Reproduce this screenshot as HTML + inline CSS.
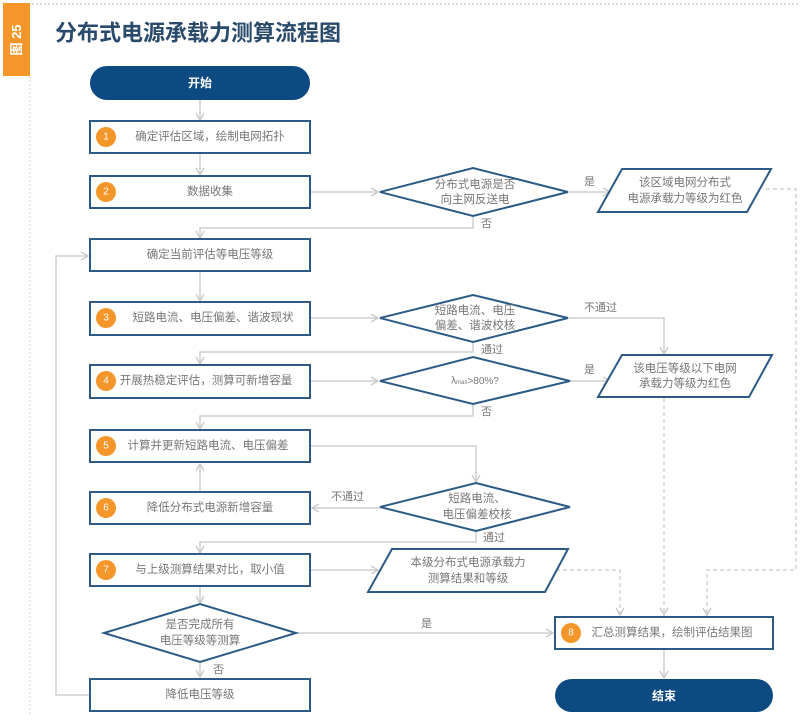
<!DOCTYPE html>
<html><head><meta charset="utf-8"><style>
html,body{margin:0;padding:0;background:#fff;}
svg{display:block;font-family:"Liberation Sans","Noto Sans CJK SC",sans-serif;}
.t{fill:#777;font-size:11.5px;text-anchor:middle;dominant-baseline:central;}
.l{fill:#777;font-size:11px;dominant-baseline:central;}
.b{fill:#fff;stroke:#2c5a84;stroke-width:2;}
.c{fill:none;stroke:#cfcfcf;stroke-width:1.5;}
.d{fill:none;stroke:#c8c8c8;stroke-width:1.2;stroke-dasharray:4 3;}
.n{fill:#f5962a;}
.nt{fill:#fff;font-size:10px;text-anchor:middle;dominant-baseline:central;}
</style></head><body>
<svg width="800" height="723" viewBox="0 0 800 723">
<defs>
<marker id="a" markerWidth="10" markerHeight="10" refX="8" refY="5" orient="auto" markerUnits="userSpaceOnUse">
<path d="M1,1 L8,5 L1,9" fill="none" stroke="#c8c8c8" stroke-width="1.3"/></marker>
</defs>
<!-- frame -->
<line x1="32" y1="4" x2="800" y2="4" stroke="#bbb" stroke-width="1" stroke-dasharray="2 2"/>
<line x1="30" y1="76" x2="30" y2="716" stroke="#ccc" stroke-width="1" stroke-dasharray="2 2"/>
<rect x="3" y="3" width="27" height="73" fill="#f5962a"/>
<text x="16.5" y="40" fill="#fff" font-size="13" font-weight="bold" text-anchor="middle" dominant-baseline="central" transform="rotate(-90 16.5 40)">图 25</text>
<text x="55" y="33" fill="#2a4a6b" font-size="22" font-weight="bold" dominant-baseline="central">分布式电源承载力测算流程图</text>

<!-- connectors -->
<line class="c" x1="200" y1="100" x2="200" y2="120" marker-end="url(#a)"/>
<line class="c" x1="200" y1="154" x2="200" y2="175" marker-end="url(#a)"/>
<line class="c" x1="311" y1="192" x2="378" y2="192" marker-end="url(#a)"/>
<line class="c" x1="569" y1="192" x2="610" y2="192" marker-end="url(#a)"/>
<polyline class="c" points="473,216 473,228 200,228 200,238" marker-end="url(#a)"/>
<line class="c" x1="200" y1="272" x2="200" y2="301" marker-end="url(#a)"/>
<line class="c" x1="311" y1="318" x2="378" y2="318" marker-end="url(#a)"/>
<polyline class="c" points="569,318 664,318 664,354" marker-end="url(#a)"/>
<polyline class="c" points="473,342 473,352 200,352 200,364" marker-end="url(#a)"/>
<line class="c" x1="311" y1="381" x2="378" y2="381" marker-end="url(#a)"/>
<line class="c" x1="570" y1="381" x2="610" y2="381" marker-end="url(#a)"/>
<polyline class="c" points="473,404 473,416 200,416 200,429" marker-end="url(#a)"/>
<polyline class="c" points="311,446 476,446 476,482" marker-end="url(#a)"/>
<line class="c" x1="380" y1="508" x2="312" y2="508" marker-end="url(#a)"/>
<line class="c" x1="200" y1="492" x2="200" y2="464" marker-end="url(#a)"/>
<polyline class="c" points="476,531 476,542 200,542 200,553" marker-end="url(#a)"/>
<line class="c" x1="311" y1="570" x2="378" y2="570" marker-end="url(#a)"/>
<line class="c" x1="200" y1="587" x2="200" y2="603" marker-end="url(#a)"/>
<line class="c" x1="296" y1="633" x2="553" y2="633" marker-end="url(#a)"/>
<line class="c" x1="200" y1="662" x2="200" y2="677" marker-end="url(#a)"/>
<polyline class="c" points="90,695 56,695 56,256 88,256" marker-end="url(#a)"/>
<line class="c" x1="664" y1="650" x2="664" y2="678" marker-end="url(#a)"/>
<!-- dashed -->
<polyline class="d" points="766,189 796,189 796,570 707,570 707,615" marker-end="url(#a)"/>
<polyline class="d" points="664,398 664,615" marker-end="url(#a)"/>
<polyline class="d" points="556,570 620,570 620,615" marker-end="url(#a)"/>

<!-- start -->
<rect x="90" y="66" width="220" height="34" rx="17" fill="#0d4a82"/>
<text x="200" y="83" fill="#fff" font-size="12" font-weight="bold" text-anchor="middle" dominant-baseline="central">开始</text>

<!-- boxes -->
<rect class="b" x="90" y="121" width="220" height="32"/>
<circle class="n" cx="106" cy="137" r="10"/><text class="nt" x="106" y="137">1</text>
<text class="t" x="210" y="137">确定评估区域，绘制电网拓扑</text>

<rect class="b" x="90" y="176" width="220" height="32"/>
<circle class="n" cx="106" cy="192" r="10"/><text class="nt" x="106" y="192">2</text>
<text class="t" x="210" y="192">数据收集</text>

<rect class="b" x="90" y="239" width="220" height="32"/>
<text class="t" x="210" y="255">确定当前评估等电压等级</text>

<rect class="b" x="90" y="302" width="220" height="33"/>
<circle class="n" cx="106" cy="318" r="10"/><text class="nt" x="106" y="318">3</text>
<text class="t" x="213" y="318">短路电流、电压偏差、谐波现状</text>

<rect class="b" x="90" y="365" width="220" height="33"/>
<circle class="n" cx="106" cy="381" r="10"/><text class="nt" x="106" y="381">4</text>
<text class="t" x="206" y="381">开展热稳定评估，测算可新增容量</text>

<rect class="b" x="90" y="430" width="220" height="32"/>
<circle class="n" cx="106" cy="446" r="10"/><text class="nt" x="106" y="446">5</text>
<text class="t" x="208" y="446">计算并更新短路电流、电压偏差</text>

<rect class="b" x="90" y="492" width="220" height="32"/>
<circle class="n" cx="106" cy="508" r="10"/><text class="nt" x="106" y="508">6</text>
<text class="t" x="210" y="508">降低分布式电源新增容量</text>

<rect class="b" x="90" y="554" width="220" height="32"/>
<circle class="n" cx="106" cy="570" r="10"/><text class="nt" x="106" y="570">7</text>
<text class="t" x="210" y="570">与上级测算结果对比，取小值</text>

<rect class="b" x="90" y="679" width="220" height="32"/>
<text class="t" x="200" y="695">降低电压等级</text>

<rect class="b" x="555" y="617" width="218" height="32"/>
<circle class="n" cx="571" cy="633" r="10"/><text class="nt" x="571" y="633">8</text>
<text class="t" x="672" y="633">汇总测算结果，绘制评估结果图</text>

<rect x="555" y="679" width="218" height="33" rx="16.5" fill="#0d4a82"/>
<text x="664" y="696" fill="#fff" font-size="12" font-weight="bold" text-anchor="middle" dominant-baseline="central">结束</text>

<!-- diamonds -->
<polygon class="b" points="380,192 473,168 568,192 473,216"/>
<text class="t" x="475" y="185">分布式电源是否</text><text class="t" x="475" y="200">向主网反送电</text>
<polygon class="b" points="380,318 473,295 568,318 473,342"/>
<text class="t" x="475" y="311">短路电流、电压</text><text class="t" x="475" y="326">偏差、谐波校核</text>
<polygon class="b" points="380,381 473,357 570,381 473,404"/>
<text x="475" y="381" fill="#777" font-size="10" text-anchor="middle" dominant-baseline="central">λ<tspan font-size="6" dy="2">max</tspan><tspan dy="-2">&gt;80%?</tspan></text>
<polygon class="b" points="380,507 476,483 570,507 476,531"/>
<text class="t" x="477" y="499">短路电流、</text><text class="t" x="477" y="515">电压偏差校核</text>
<polygon class="b" points="104,633 200,604 296,633 200,662"/>
<text class="t" x="200" y="625">是否完成所有</text><text class="t" x="200" y="641">电压等级等测算</text>

<!-- parallelograms -->
<polygon class="b" points="622,169 771,169 747,212 598,212"/>
<text class="t" x="685" y="183">该区域电网分布式</text><text class="t" x="685" y="199">电源承载力等级为红色</text>
<polygon class="b" points="622,355 772,355 749,397 598,397"/>
<text class="t" x="685" y="369">该电压等级以下电网</text><text class="t" x="685" y="384">承载力等级为红色</text>
<polygon class="b" points="392,549 568,549 545,592 368,592"/>
<text class="t" x="468" y="563">本级分布式电源承载力</text><text class="t" x="468" y="579">测算结果和等级</text>

<!-- labels -->
<text class="l" x="584" y="182">是</text>
<text class="l" x="481" y="224">否</text>
<text class="l" x="584" y="308">不通过</text>
<text class="l" x="481" y="350">通过</text>
<text class="l" x="584" y="370">是</text>
<text class="l" x="481" y="412">否</text>
<text class="l" x="331" y="497">不通过</text>
<text class="l" x="483" y="538">通过</text>
<text class="l" x="421" y="624">是</text>
<text class="l" x="213" y="670">否</text>
</svg>
</body></html>
